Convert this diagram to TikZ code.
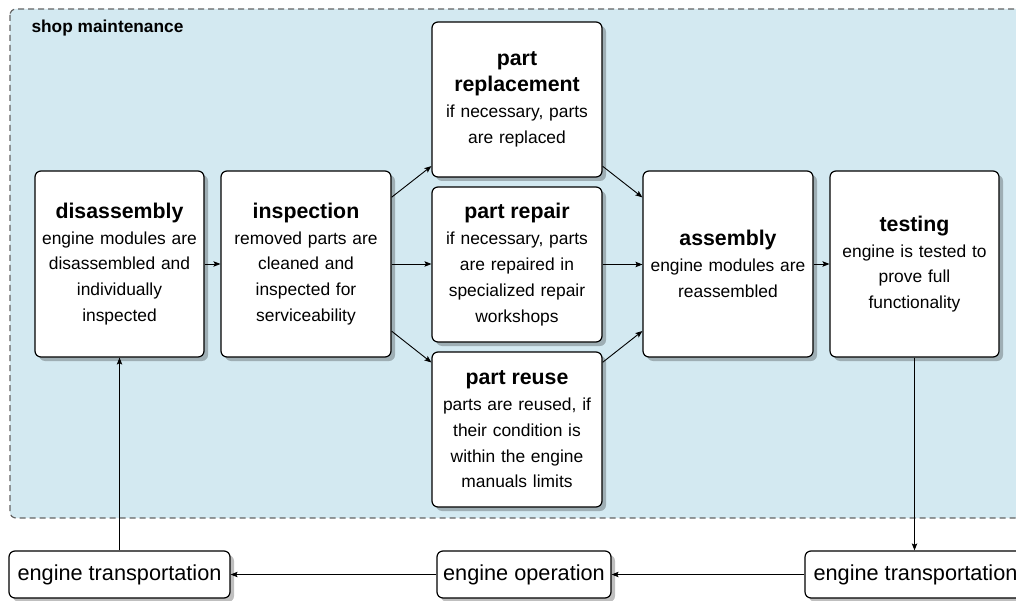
\documentclass[tikz,border=0pt]{standalone}
\usepackage{fontspec}
\setmainfont{Liberation Sans}
\usetikzlibrary{arrows.meta,shadows}

\definecolor{poolfill}{RGB}{211,233,241}
\definecolor{pooledge}{RGB}{100,100,100}

% bold heading inside a step box
\newcommand{\steptitle}[1]{{\fontsize{21.3}{25.8}\selectfont\bfseries #1}}

\tikzset{
  card/.style={draw=black, line width=1.2pt, rounded corners=6pt, fill=white,
    inner sep=0pt, align=center,
    drop shadow={shadow xshift=4pt, shadow yshift=-4pt, fill=black, opacity=0.25}},
  stepbox/.style={card, minimum width=170pt, text width=165pt,
    font=\fontsize{17.4}{25.8}\selectfont},
  lifebox/.style={card, minimum height=47pt, font=\fontsize{21.7}{26}\selectfont},
  flow/.style={line width=0.9pt, -{Stealth[length=7pt,width=5.5pt,inset=1.5pt]}},
}

\begin{document}
\begin{tikzpicture}[x=1pt, y=-1pt]
  \clip (0,0) rectangle (1016,601);
  \fill[white] (0,0) rectangle (1016,601);

  % shop maintenance pool
  \draw[fill=poolfill, draw=pooledge, line width=1.2pt, dash pattern=on 6pt off 4pt,
        rounded corners=6pt] (10,9) rectangle (1040,518);
  \node[anchor=base west, font=\fontsize{17.3}{20}\selectfont\bfseries] (pool) at (28,33)
    {shop maintenance};

  % process steps
  \node[stepbox, minimum width=169pt, minimum height=186pt] (dis) at (119.5,264)
    {\steptitle{disassembly}\\engine modules are\\disassembled and\\individually\\inspected};
  \node[stepbox, minimum height=186pt] (insp) at (306,264)
    {\steptitle{inspection}\\removed parts are\\cleaned and\\inspected for\\serviceability};
  \node[stepbox, minimum height=155pt] (prep) at (517,99.5)
    {\steptitle{part\\replacement}\\if necessary, parts\\are replaced};
  \node[stepbox, minimum height=155pt] (prepair) at (517,264.5)
    {\steptitle{part repair}\\if necessary, parts\\are repaired in\\specialized repair\\workshops};
  \node[stepbox, minimum height=155pt] (reuse) at (517,429.5)
    {\steptitle{part reuse}\\parts are reused, if\\their condition is\\within the engine\\manuals limits};
  \node[stepbox, minimum height=186pt] (asm) at (728,264)
    {\steptitle{assembly}\\engine modules are\\reassembled};
  \node[stepbox, minimum width=169pt, minimum height=186pt] (test) at (914.5,264)
    {\steptitle{testing}\\engine is tested to\\prove full\\functionality};

  % engine life cycle outside the shop
  \node[lifebox, minimum width=221pt] (tl) at (119.5,574.5) {engine transportation};
  \node[lifebox, minimum width=174pt] (op) at (524,574.5) {engine operation};
  \node[lifebox, minimum width=221pt] (tr) at (915.5,574.5) {engine transportation};

  % connectors
  \draw[flow] (dis.east) -- (insp.west);
  \draw[flow] (insp) -- (prep);
  \draw[flow] (insp.east) -- (insp.east -| prepair.west);
  \draw[flow] (insp) -- (reuse);
  \draw[flow] (prep) -- (asm);
  \draw[flow] (prepair.east) -- (prepair.east -| asm.west);
  \draw[flow] (reuse) -- (asm);
  \draw[flow] (asm.east) -- (test.west);
  \draw[flow] (test.south) -- (test.south |- tr.north);
  \draw[flow] (tr.west) -- (op.east);
  \draw[flow] (op.west) -- (tl.east);
  \draw[flow] (tl.north) -- (dis.south);
\end{tikzpicture}
\end{document}
